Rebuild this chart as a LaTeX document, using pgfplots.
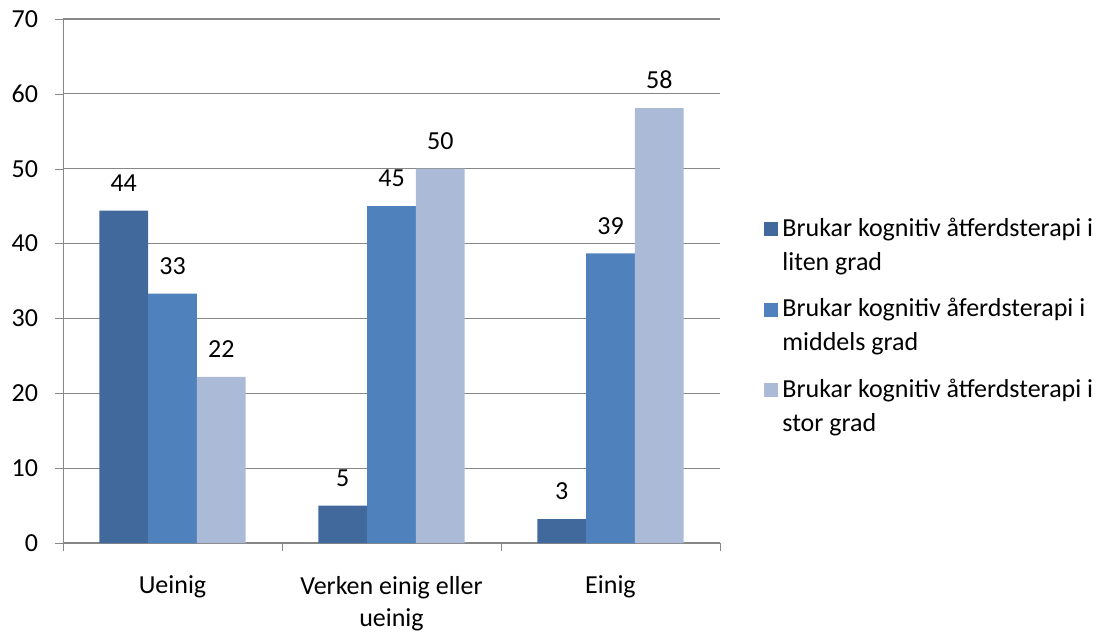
\documentclass[border=0pt]{standalone}
\usepackage{fontspec}
\setmainfont{Carlito}
\usepackage{pgfplots}
\pgfplotsset{compat=1.18}
\definecolor{serA}{RGB}{65,105,156}
\definecolor{serB}{RGB}{79,129,189}
\definecolor{serC}{RGB}{170,186,215}
\definecolor{gridgray}{RGB}{135,135,135}

\begin{document}
\fontsize{13}{17}\selectfont
\begin{tikzpicture}
\path[use as bounding box] (-31.5pt,-44pt) rectangle (524.5pt,271.5pt);
\begin{axis}[
    at={(0,0)}, anchor=south west,
    scale only axis, width=328.5pt, height=262pt,
    ybar=0pt, bar width=24.4pt,
    xmin=-0.5, xmax=2.5, ymin=0, ymax=70,
    ytick={0,10,...,70},
    xtick={0,1,2},
    xticklabels={Ueinig, {Verken einig eller\\ueinig}, Einig},
    xticklabel style={align=center, yshift=-8pt,
        font=\fontsize{13}{16}\selectfont},
    yticklabel style={xshift=-4pt},
    minor xtick={-0.5,0.5,1.5,2.5},
    major x tick style={draw=none},
    minor x tick style={draw=gridgray},
    minor tick length=4pt,
    major tick length=4pt,
    tick align=outside,
    ytick style={draw=gridgray},
    axis x line*=bottom, axis y line*=left,
    axis line style={draw=gridgray, -},
    ymajorgrids, grid style={gridgray, line width=0.6pt},
    /pgf/number format/assume math mode=true,
    nodes near coords,
    nodes near coords style={text=black, yshift=5pt,
        /pgf/number format/.cd, fixed, precision=0},
    legend style={at={(1,0.413)}, anchor=west, xshift=19pt,
        draw=none, fill=none, cells={align=left, anchor=west},
        row sep=8pt},
    legend image code/.code={\fill[#1] (0pt,5pt) rectangle (7pt,12pt);},
]
\addplot[fill=serA, draw=none] coordinates {(0,44.4) (1,5.0) (2,3.2)};
\addplot[fill=serB, draw=none] coordinates {(0,33.3) (1,45.0) (2,38.7)};
\addplot[fill=serC, draw=none] coordinates {(0,22.2) (1,50.0) (2,58.1)};
\legend{{Brukar kognitiv åtferdsterapi i\\liten grad},
        {Brukar kognitiv åferdsterapi i\\middels grad},
        {Brukar kognitiv åtferdsterapi i\\stor grad}}
\end{axis}
\end{tikzpicture}
\end{document}
